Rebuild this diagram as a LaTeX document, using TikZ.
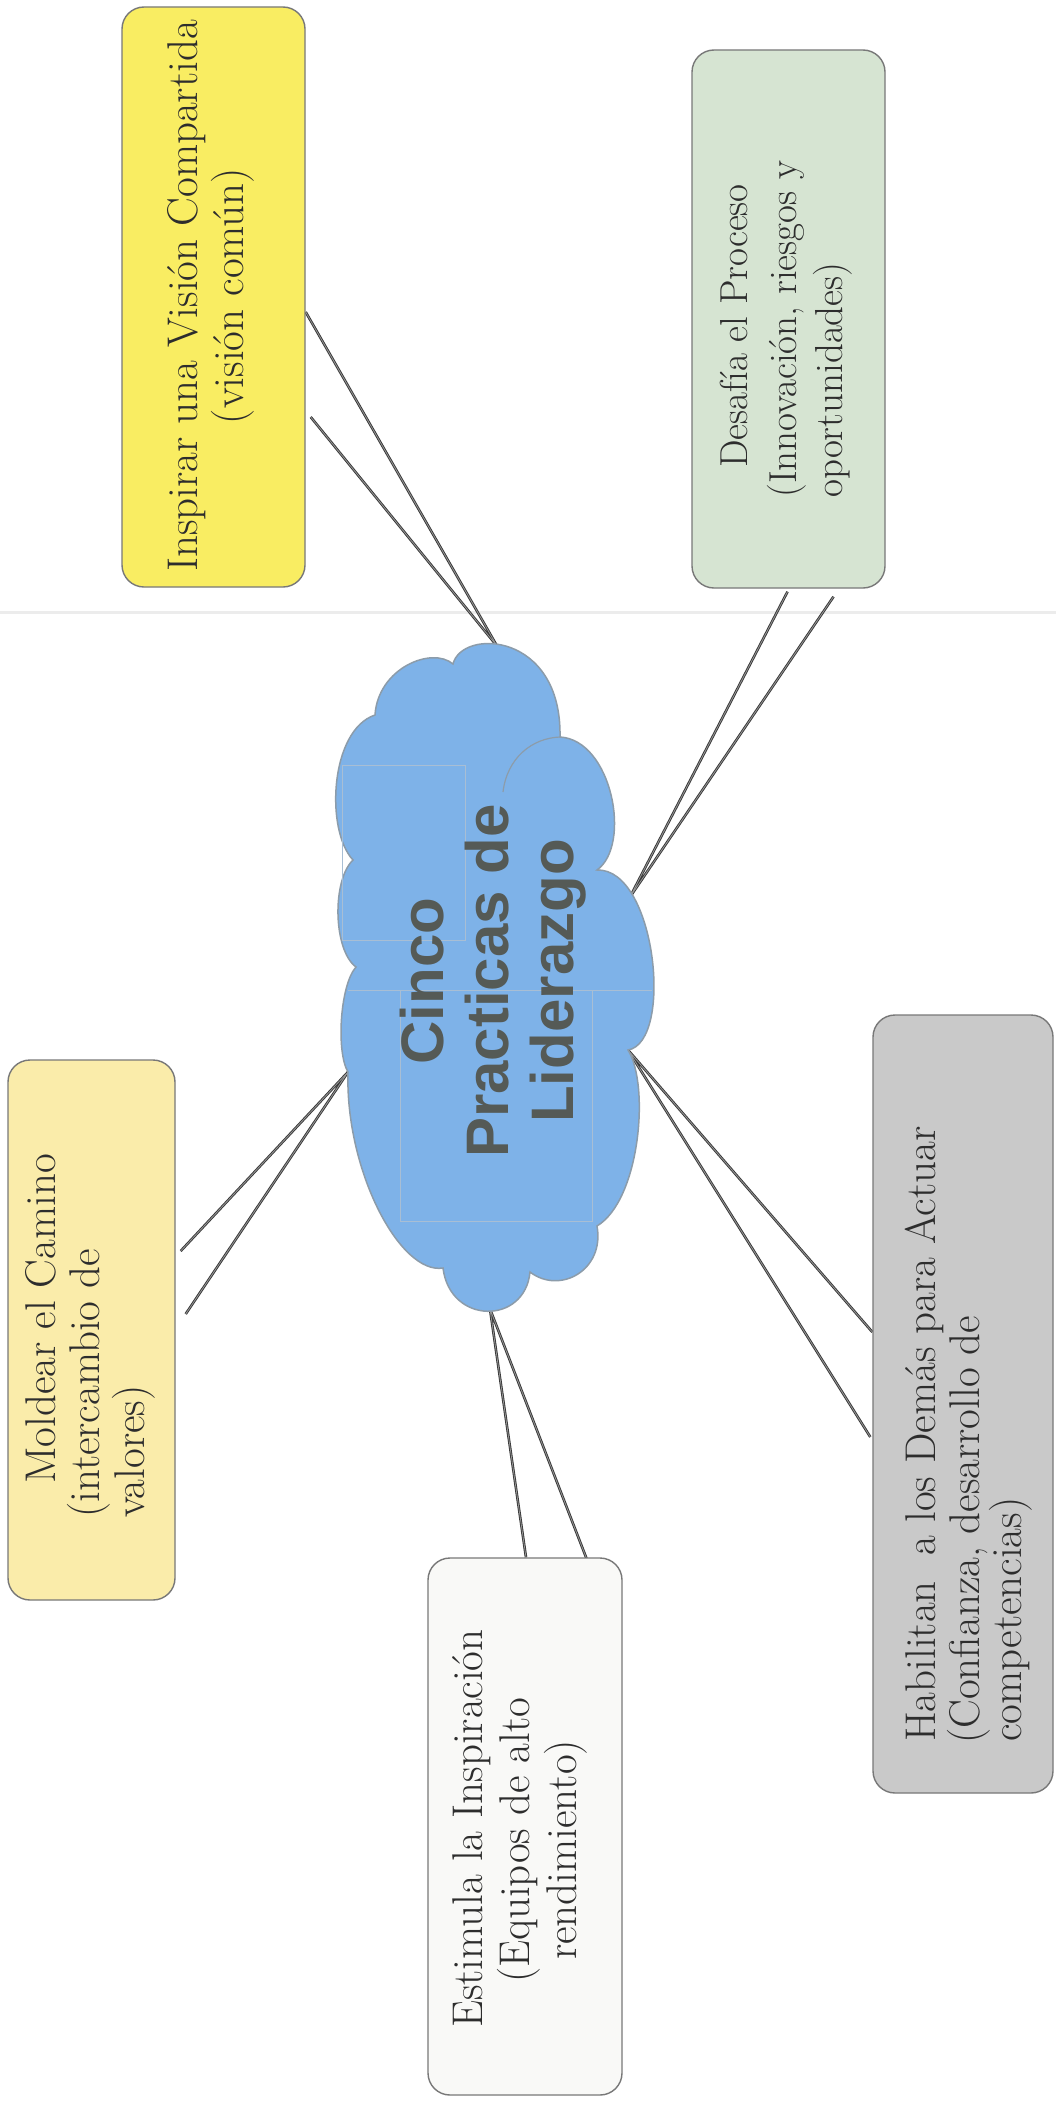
\documentclass[tikz,border=0pt]{standalone}
\usepackage{fontspec}
\newfontfamily\cloudfont{Liberation Sans}
\usetikzlibrary{calc,backgrounds}
\definecolor{yel}{RGB}{249,237,98}
\definecolor{grn}{RGB}{214,228,210}
\definecolor{pyel}{RGB}{250,236,170}
\definecolor{wht}{RGB}{249,249,247}
\definecolor{gry}{RGB}{201,201,201}
\definecolor{cloudfill}{RGB}{126,178,232}
\definecolor{cloudline}{RGB}{140,156,170}
\definecolor{boxline}{RGB}{120,120,120}
\definecolor{txt}{RGB}{45,45,45}
\definecolor{ctxt}{RGB}{85,90,86}
\definecolor{conncol}{RGB}{55,55,55}
\definecolor{conninner}{RGB}{150,150,150}
\definecolor{faintcol}{RGB}{168,190,212}
\definecolor{pagefaint}{RGB}{236,236,236}
\begin{document}
\begin{tikzpicture}[x=1pt,y=-1pt,
  box/.style={draw=boxline, line width=1.4pt, rounded corners=22pt, inner sep=0pt},
  lbl/.style={rotate=90, anchor=base west, inner sep=0pt, text=txt, font=\fontsize{42}{50}\selectfont},
  big/.style={font=\fontsize{43}{51}\selectfont},
  small/.style={font=\fontsize{39}{47}\selectfont},
  clbl/.style={rotate=90, anchor=base, inner sep=0pt, text=ctxt, font=\cloudfont\bfseries\fontsize{60}{70}\selectfont},
  conn/.style={draw=conncol, line width=0.9pt, double=conninner, double distance=0.8pt, line join=round},
  faint/.style={draw=faintcol, line width=0.8pt},
  cloudshape/.style={fill=cloudfill, draw=cloudline, line width=1.5pt}
]
\useasboundingbox (0,0) rectangle (1056,2101);

% boxes
\node[box, fill=yel, minimum width=183pt, minimum height=580pt] (vision) at (213.5,297) {};
\node[box, fill=grn, minimum width=193pt, minimum height=538pt] (desafio) at (788.5,319) {};
\node[box, fill=pyel, minimum width=167pt, minimum height=540pt] (moldear) at (91.5,1330) {};
\node[box, fill=wht, minimum width=194pt, minimum height=537pt] (estimula) at (525,1826.5) {};
\node[box, fill=gry, minimum width=180pt, minimum height=778pt] (habilitan) at (963,1404) {};

% connector tips on the cloud
\coordinate (cV) at (497,646);
\coordinate (cD) at (630,897);
\coordinate (cH) at (628,1050);
\coordinate (cE) at (490,1309);
\coordinate (cM) at (348,1072);

% cloud
\path[cloudshape] (375,715)
  .. controls (378,668) and (432,646) .. (453,664)
  .. controls (462,628) and (562,632) .. (560,737)
  .. controls (612,740) and (632,845) .. (597,870)
  .. controls (656,868) and (674,1042) .. (cH)
  .. controls (650,1085) and (640,1200) .. (597,1226)
  .. controls (605,1270) and (560,1295) .. (530,1272)
  .. controls (525,1325) and (450,1325) .. (443,1268)
  .. controls (400,1275) and (345,1170) .. (cM)
  .. controls (336,1052) and (340,985) .. (356,967)
  .. controls (333,950) and (332,880) .. (353,860)
  .. controls (325,830) and (330,730) .. (375,715) -- cycle;
\draw[cloudline, line width=1.2pt] (560,737) .. controls (532,738) and (507,758) .. (503,792);

% faint scan rectangles inside cloud
\draw[faint] (342,765) rectangle (465,940);
\draw[faint] (348,990) -- (652,990);
\draw[faint] (400,990) rectangle (592,1221);

% cloud text
\node[clbl] (t1) at (443,981) {Cinco};
\node[clbl] (t2) at (508,981) {Practicas de};
\node[clbl] (t3) at (573,981) {Liderazgo};

% box texts
\node[lbl, big, anchor=base] (v1) at (197,296) {Inspirar una Visión Compartida};
\node[lbl, big, anchor=base] (v2) at (243,296) {(visión común)};

\node[lbl, small] (d1) at (747,468) {Desafía el Proceso};
\node[lbl, small] (d2) at (796,498) {(Innovación, riesgos y};
\node[lbl, small] (d3) at (842,498) {oportunidades)};

\node[lbl, big] (m1) at (55,1484) {Moldear el Camino};
\node[lbl, big] (m2) at (99,1518) {(intercambio de};
\node[lbl, big] (m3) at (144,1518) {valores)};

\node[lbl, big] (e1) at (482,2028) {Estimula la Inspiración};
\node[lbl, big] (e2) at (529,1983) {(Equipos de alto};
\node[lbl, big] (e3) at (576,1960) {rendimiento)};

\node[lbl, big] (h1) at (935,1742) {Habilitan\hspace{0.3em} a los Demás para Actuar};
\node[lbl, big] (h2) at (979,1744) {(Confianza, desarrollo de};
\node[lbl, big] (h3) at (1021,1742) {competencias)};

\begin{pgfonlayer}{background}
\fill[white] (0,0) rectangle (1056,2101);
\draw[pagefaint, line width=3pt] (0,612) -- (1056,612);
\draw[conn] ($(vision.east)+(0,15)$) -- (cV) -- ($(vision.east)+(5,120)$);
\draw[conn] ($(desafio.south)+(-1,3)$) -- (cD) -- ($(desafio.south)+(45,8)$);
\draw[conn] ($(moldear.east)+(5,-79)$) -- (cM) -- ($(moldear.east)+(10,-16)$);
\draw[conn] ($(estimula.north)+(1,0)$) -- (cE) -- ($(estimula.north)+(63,5)$);
\draw[conn] ($(habilitan.west)+(0,-72)$) -- (cH) -- ($(habilitan.west)+(-2,33)$);
\end{pgfonlayer}
\end{tikzpicture}
\end{document}
